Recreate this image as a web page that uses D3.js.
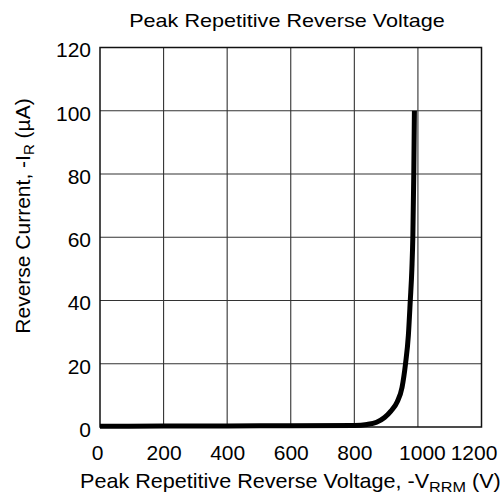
<!DOCTYPE html>
<html>
<head>
<meta charset="utf-8">
<script src="https://cdn.jsdelivr.net/npm/d3@7"></script>
<style>
  html, body { margin: 0; padding: 0; background: #fff; }
  svg { display: block; font-family: "Liberation Sans", Arial, Helvetica, sans-serif; }
</style>
</head>
<body>
<svg id="chart" width="504" height="498"></svg>
<script>
// ---- data ----
const voltage = [0, 200, 400, 600, 800, 840, 870, 895, 915, 935, 950, 961, 970, 976, 981, 984, 987, 989];
const current = [0.2, 0.3, 0.35, 0.4, 0.5, 0.8, 1.5, 3, 5, 8, 12.5, 20, 29, 40, 50, 60, 80, 100];
const xTicks = [0, 200, 400, 600, 800, 1000, 1200];
const yTicks = [0, 20, 40, 60, 80, 100, 120];
const title = "Peak Repetitive Reverse Voltage";

// ---- layout ----
const svg = d3.select("#chart");
const pLeft = 100, pRight = 481.5, pTop = 47.5, pBottom = 427;
const x = d3.scaleLinear().domain([0, 1200]).range([pLeft, pRight]);
const y = d3.scaleLinear().domain([0, 120]).range([pBottom, pTop]);

// gridlines
svg.append("g").selectAll("line").data(xTicks.slice(1, -1)).join("line")
  .attr("x1", d => x(d)).attr("x2", d => x(d))
  .attr("y1", pTop).attr("y2", pBottom)
  .attr("stroke", "#333").attr("stroke-width", 1.1);
svg.append("g").selectAll("line").data(yTicks.slice(1, -1)).join("line")
  .attr("y1", d => y(d)).attr("y2", d => y(d))
  .attr("x1", pLeft).attr("x2", pRight)
  .attr("stroke", "#333").attr("stroke-width", 1.1);

// frame
svg.append("rect").attr("x", pLeft).attr("y", pTop)
  .attr("width", pRight - pLeft).attr("height", pBottom - pTop)
  .attr("fill", "none").attr("stroke", "#111").attr("stroke-width", 1.5);

// axes (labels only)
const xAxis = svg.append("g").attr("transform", `translate(0,${pBottom})`)
  .call(d3.axisBottom(x).tickValues(xTicks).tickFormat(d3.format("d")).tickSize(0).tickPadding(18));
xAxis.select(".domain").remove();
xAxis.selectAll("text").attr("font-size", 21).attr("fill", "#000")
  .attr("font-family", "Liberation Sans, Arial, sans-serif")
  .attr("dx", d => d === 1000 ? 4 : d === 1200 ? -8 : d === 0 ? -3 : 0);

const yAxis = svg.append("g").attr("transform", `translate(${pLeft},0)`)
  .call(d3.axisLeft(y).tickValues(yTicks).tickFormat(d3.format("d")).tickSize(0).tickPadding(9));
yAxis.select(".domain").remove();
yAxis.selectAll("text").attr("font-size", 21).attr("fill", "#000")
  .attr("font-family", "Liberation Sans, Arial, sans-serif")
  .attr("dy", "0.45em");

// curve
const pts = voltage.map((v, i) => [v, current[i]]);
svg.append("path").datum(pts)
  .attr("fill", "none").attr("stroke", "#000").attr("stroke-width", 5)
  .attr("stroke-linejoin", "round")
  .attr("d", d3.line().x(d => x(d[0])).y(d => y(d[1])).curve(d3.curveMonotoneX));

// title
svg.append("text").attr("transform", "translate(287,27) scale(1.2,1)")
  .attr("text-anchor", "middle").attr("font-size", 18)
  .text(title);

// x axis title
const xt = svg.append("text").attr("transform", "translate(80,488) scale(1.08,1)")
  .attr("font-size", 20);
xt.append("tspan").text("Peak Repetitive Reverse Voltage, -V");
xt.append("tspan").attr("font-size", 15).attr("dy", 4).text("RRM");
xt.append("tspan").attr("dy", -4).text(" (V)");

// y axis title
const yt = svg.append("text").attr("transform", "translate(30,216) rotate(-90)")
  .attr("text-anchor", "middle").attr("font-size", 21);
yt.append("tspan").text("Reverse Current, -I");
yt.append("tspan").attr("font-size", 15).attr("dy", 4).text("R");
yt.append("tspan").attr("dy", -4).text(" (µA)");
</script>
</body>
</html>
